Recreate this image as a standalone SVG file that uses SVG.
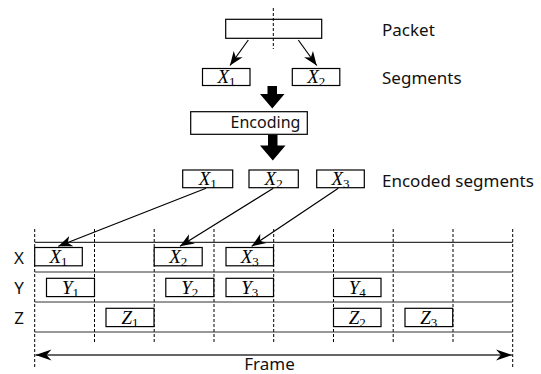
<svg xmlns="http://www.w3.org/2000/svg" width="541" height="374" viewBox="0 0 541 374">
<style>
.bx{fill:#fff;stroke:#000;stroke-width:1.2}
.t{font-family:"Noto Sans","DejaVu Sans",sans-serif;font-size:17px;fill:#111}
.e{font-size:16px}
.m{font-family:"Liberation Serif",serif;font-size:19px;fill:#000;text-anchor:middle}
.v{font-style:italic}
.s{font-size:13px}
.dash{stroke:#000;stroke-width:1;stroke-dasharray:3 2;fill:none}
.hl{stroke:#333;stroke-width:1.2;fill:none}
.ar{stroke:#000;stroke-width:1.2;fill:none;marker-end:url(#ah)}
.big{fill:#000}
</style>
<defs>
<marker id="ah" viewBox="-14 -6 16 12" markerWidth="16" markerHeight="12" refX="0" refY="0" orient="auto" markerUnits="userSpaceOnUse">
<path d="M0,0 L-14,-5.5 L-10,0 L-14,5.5 Z" fill="#000"/>
</marker>
<marker id="fh" viewBox="-16 -6 18 12" markerWidth="18" markerHeight="12" refX="0" refY="0" orient="auto-start-reverse" markerUnits="userSpaceOnUse">
<path d="M0,0 L-16,-5.5 L-11,0 L-16,5.5 Z" fill="#000"/>
</marker>
</defs>

<g id="grid">
<line class="dash" x1="34.7" y1="229" x2="34.7" y2="367"/>
<line class="dash" x1="94.5" y1="229" x2="94.5" y2="343"/>
<line class="dash" x1="154.2" y1="229" x2="154.2" y2="343"/>
<line class="dash" x1="214" y1="229" x2="214" y2="343"/>
<line class="dash" x1="273.7" y1="229" x2="273.7" y2="343"/>
<line class="dash" x1="333.5" y1="229" x2="333.5" y2="343"/>
<line class="dash" x1="393.2" y1="229" x2="393.2" y2="343"/>
<line class="dash" x1="453" y1="229" x2="453" y2="343"/>
<line class="dash" x1="512.7" y1="229" x2="512.7" y2="367"/>
<line class="hl" x1="34.7" y1="242.3" x2="512.7" y2="242.3"/>
<line class="hl" x1="34.7" y1="272" x2="512.7" y2="272"/>
<line class="hl" x1="34.7" y1="302" x2="512.7" y2="302"/>
<line class="hl" x1="34.7" y1="332" x2="512.7" y2="332"/>
</g>

<g id="packet">
<rect class="bx" x="225.7" y="19.3" width="96" height="19"/>
<line class="dash" x1="273.3" y1="8" x2="273.3" y2="49"/>
<text class="t" x="382" y="35.7">Packet</text>
</g>

<g id="segments">
<rect class="bx" x="202.5" y="68.5" width="47.5" height="17"/>
<text class="m" x="226.5" y="83"><tspan class="v">X</tspan><tspan class="s" dy="3">1</tspan></text>
<rect class="bx" x="292.3" y="68.5" width="47.5" height="17"/>
<text class="m" x="316.3" y="83"><tspan class="v">X</tspan><tspan class="s" dy="3">2</tspan></text>
<text class="t" x="382" y="84">Segments</text>
</g>

<g id="encoding">
<rect class="bx" x="190.7" y="111.7" width="116.6" height="22.6"/>
<text class="t e" x="265.5" y="127.7" text-anchor="middle">Encoding</text>
</g>

<g id="encoded">
<rect class="bx" x="182.7" y="170" width="50" height="17.7"/>
<text class="m" x="207.7" y="184.5"><tspan class="v">X</tspan><tspan class="s" dy="3">1</tspan></text>
<rect class="bx" x="249" y="170" width="49.3" height="17.7"/>
<text class="m" x="273.6" y="184.5"><tspan class="v">X</tspan><tspan class="s" dy="3">2</tspan></text>
<rect class="bx" x="316.7" y="170" width="47.6" height="17.7"/>
<text class="m" x="340.5" y="184.5"><tspan class="v">X</tspan><tspan class="s" dy="3">3</tspan></text>
<text class="t" x="382" y="186.7">Encoded segments</text>
</g>

<g id="rowX">
<text class="t" x="19" y="263.5" text-anchor="middle">X</text>
<rect class="bx" x="34.7" y="247.5" width="47.6" height="18.3"/>
<text class="m" x="58.5" y="263"><tspan class="v">X</tspan><tspan class="s" dy="3">1</tspan></text>
<rect class="bx" x="154.2" y="247.5" width="48" height="18.3"/>
<text class="m" x="178.2" y="263"><tspan class="v">X</tspan><tspan class="s" dy="3">2</tspan></text>
<rect class="bx" x="226" y="247.5" width="47.5" height="18.3"/>
<text class="m" x="249.7" y="263"><tspan class="v">X</tspan><tspan class="s" dy="3">3</tspan></text>
</g>

<g id="rowY">
<text class="t" x="19" y="293.5" text-anchor="middle">Y</text>
<rect class="bx" x="46.5" y="278.3" width="48" height="18.3"/>
<text class="m" x="70.5" y="293.8"><tspan class="v">Y</tspan><tspan class="s" dy="3">1</tspan></text>
<rect class="bx" x="165.8" y="278.3" width="48" height="18.3"/>
<text class="m" x="189.8" y="293.8"><tspan class="v">Y</tspan><tspan class="s" dy="3">2</tspan></text>
<rect class="bx" x="226" y="278.3" width="47.5" height="18.3"/>
<text class="m" x="249.7" y="293.8"><tspan class="v">Y</tspan><tspan class="s" dy="3">3</tspan></text>
<rect class="bx" x="333.5" y="278.3" width="47.5" height="18.3"/>
<text class="m" x="357.2" y="293.8"><tspan class="v">Y</tspan><tspan class="s" dy="3">4</tspan></text>
</g>

<g id="rowZ">
<text class="t" x="19" y="323.5" text-anchor="middle">Z</text>
<rect class="bx" x="106" y="308.3" width="48" height="18.3"/>
<text class="m" x="130" y="323.8"><tspan class="v">Z</tspan><tspan class="s" dy="3">1</tspan></text>
<rect class="bx" x="333.5" y="308.3" width="47.5" height="18.3"/>
<text class="m" x="357.2" y="323.8"><tspan class="v">Z</tspan><tspan class="s" dy="3">2</tspan></text>
<rect class="bx" x="405" y="308.3" width="47.7" height="18.3"/>
<text class="m" x="428.8" y="323.8"><tspan class="v">Z</tspan><tspan class="s" dy="3">3</tspan></text>
</g>

<g id="frame">
<line x1="35.5" y1="355" x2="511.9" y2="355" stroke="#333" stroke-width="1.5" marker-start="url(#fh)" marker-end="url(#fh)"/>
<text class="t" x="269.5" y="369.5" text-anchor="middle">Frame</text>
</g>

<g id="connectors">
<line class="ar" x1="248.3" y1="40" x2="230" y2="65.5"/>
<line class="ar" x1="298.3" y1="40" x2="316.7" y2="65.5"/>
<path class="big" d="M267.5,86 H277 V94 H284.5 L272.3,108.5 L260,94 H267.5 Z"/>
<path class="big" d="M268,135 H277.5 V145.5 H285.5 L272.8,160.5 L260,145.5 H268 Z"/>
<line class="ar" x1="206" y1="188.3" x2="58.3" y2="246.3"/>
<line class="ar" x1="273.3" y1="188.3" x2="180" y2="246.3"/>
<line class="ar" x1="338.3" y1="188.3" x2="251.7" y2="246.3"/>
</g>
</svg>
